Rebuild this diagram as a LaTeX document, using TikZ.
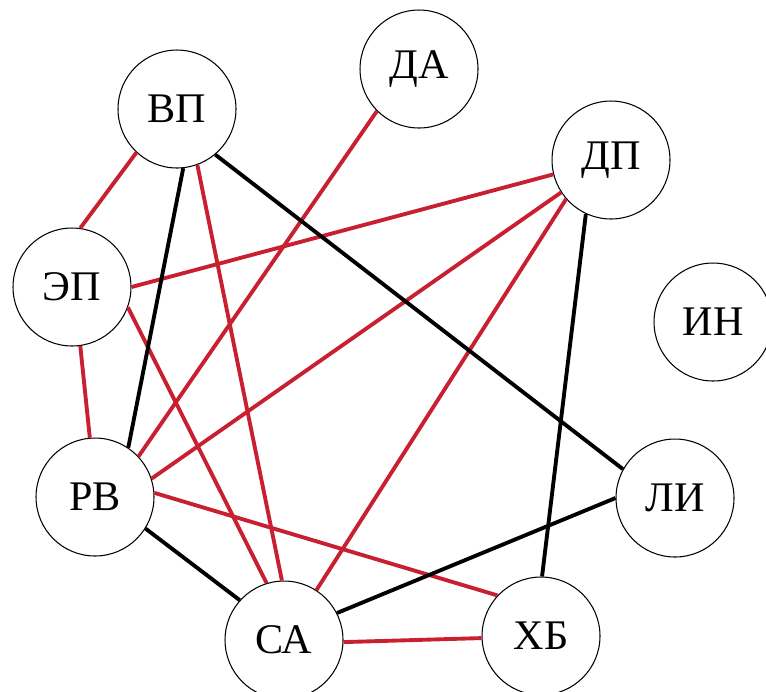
\documentclass[tikz,border=0pt]{standalone}
\usepackage{fontspec}
\setmainfont{Liberation Serif}

\begin{document}
\begin{tikzpicture}[
  x=0.02cm, y=-0.02cm,
  font=\fontsize{24}{28}\selectfont,
  member/.style={draw, circle, line width=0.6pt, minimum size=2.36cm, inner sep=0pt, fill=white},
  tie/.style={line width=2.2pt, draw=tiered},
  link/.style={line width=2.2pt, draw=black}
]
\definecolor{tiered}{RGB}{200,32,48}
\useasboundingbox (0,0) rectangle (766,691);
\clip (0,0) rectangle (766,691);

\node[member] (vp) at (177,109) {ВП};
\node[member] (da) at (419,69) {ДА};
\node[member] (dp) at (611,160) {ДП};
\node[member] (ep) at (72,287) {ЭП};
\node[member] (inn) at (713,322) {ИН};
\node[member] (rv) at (95,497) {РВ};
\node[member] (li) at (675,498) {ЛИ};
\node[member] (sa) at (284,640) {СА};
\node[member] (hb) at (541,636) {ХБ};

% red ties
\draw[tie] (vp.227) -- (ep.82);
\draw[tie] (vp.290) -- (sa.92);
\draw[tie] (da.225) -- (rv.43);
\draw[tie] (dp.194) -- (ep.0);
\draw[tie] (dp.213) -- (rv.18);
\draw[tie] (dp.221) -- (sa.57);
\draw[tie] (ep.278) -- (rv.95);
\draw[tie] (ep.-20) -- (sa.107);
\draw[tie] (rv.4) -- (hb.137);
\draw[tie] (sa.-2) -- (hb.182);

% black links
\draw[link] (vp.276) -- (rv.56);
\draw[link] (vp.-50) -- (li.151);
\draw[link] (dp.245) -- (hb.89);
\draw[link] (rv.-32) -- (sa.138);
\draw[link] (sa.27) -- (li.180);

\end{tikzpicture}
\end{document}
